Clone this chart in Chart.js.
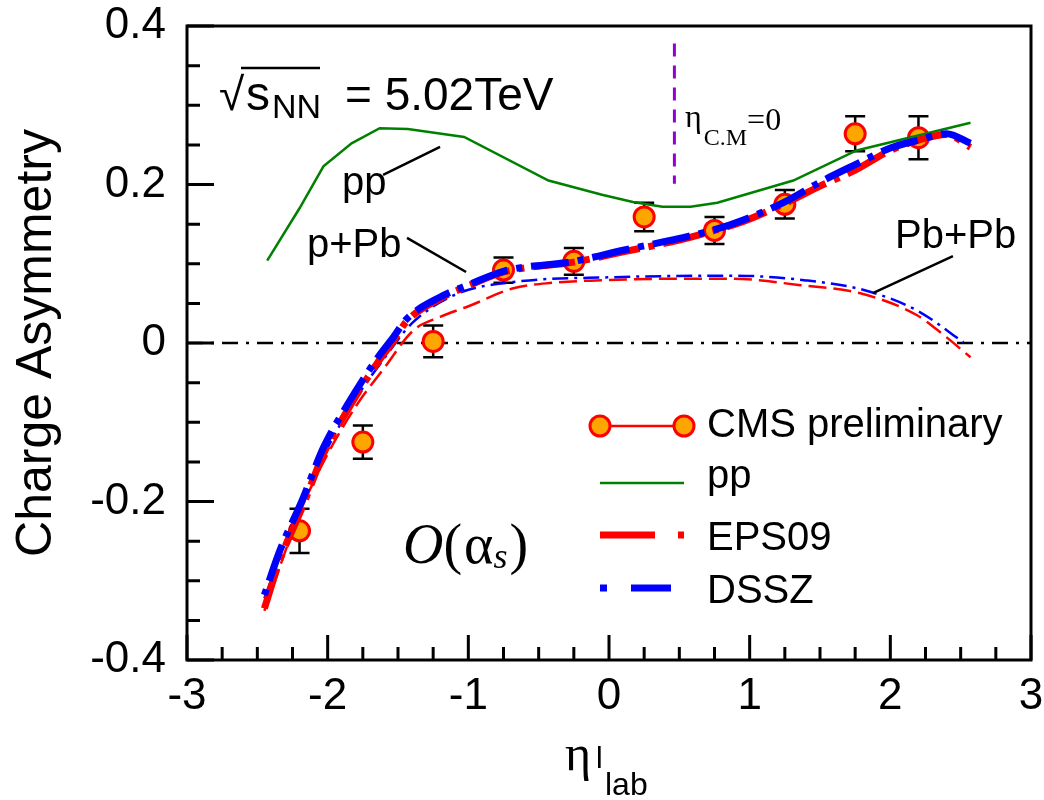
<!DOCTYPE html>
<html>
<head>
<meta charset="utf-8">
<script src="https://cdn.jsdelivr.net/npm/chart.js@4"></script>
<style>
  html, body { margin: 0; padding: 0; background: #fff; }
</style>
</head>
<body>
<canvas id="canvas" width="1044" height="800"></canvas>
<script>
// CMS preliminary charge asymmetry vs lepton eta (lab frame)
var cmsEta = [-2.2, -1.75, -1.25, -0.75, -0.25, 0.25, 0.75, 1.25, 1.75, 2.2];
var cmsAsym = [-0.237, -0.125, 0.002, 0.092, 0.103, 0.159, 0.142, 0.175, 0.264, 0.259];
var cmsErr = [0.028, 0.021, 0.02, 0.016, 0.017, 0.018, 0.017, 0.018, 0.022, 0.027];

// pp reference curve
var ppEta = [-2.43, -2.2, -2.03, -1.83, -1.63, -1.43, -1.03, -0.43, -0.05, 0.17, 0.38, 0.58, 0.77, 1.31, 1.76, 2.57];
var ppAsym = [0.104, 0.170, 0.223, 0.252, 0.271, 0.270, 0.260, 0.205, 0.187, 0.178, 0.172, 0.172, 0.177, 0.205, 0.243, 0.278];

// p+Pb, EPS09 and DSSZ nPDFs
var pPbEta = [-2.45, -2.34, -2.18, -2.03, -1.86, -1.65, -1.53, -1.44, -1.2, -0.99, -0.74, -0.25, 0.1, 0.5, 0.75, 0.95, 1.25, 1.5, 1.75, 2.0, 2.2, 2.4, 2.57];
var pPbEps09 = [-0.335, -0.274, -0.207, -0.140, -0.085, -0.026, 0.003, 0.027, 0.056, 0.073, 0.090, 0.102, 0.115, 0.130, 0.142, 0.153, 0.176, 0.198, 0.218, 0.243, 0.256, 0.263, 0.247];
var pPbDssz = [-0.318, -0.262, -0.198, -0.132, -0.078, -0.020, 0.008, 0.030, 0.058, 0.074, 0.091, 0.103, 0.117, 0.132, 0.143, 0.155, 0.178, 0.203, 0.225, 0.246, 0.256, 0.264, 0.252];

// Pb+Pb, EPS09 and DSSZ nPDFs
var PbPbEta = [-2.45, -2.2, -2.0, -1.8, -1.6, -1.39, -1.2, -0.99, -0.68, -0.4, -0.09, 0.41, 0.88, 1.36, 1.78, 2.19, 2.38, 2.57];
var PbPbEps09 = [-0.338, -0.215, -0.140, -0.080, -0.032, 0.016, 0.033, 0.047, 0.069, 0.076, 0.079, 0.081, 0.081, 0.073, 0.063, 0.035, 0.010, -0.018];
var PbPbDsszEta = [-2.45, -2.2, -2.0, -1.8, -1.6, -1.4, -1.08, -0.68, 0.03, 0.88, 1.4, 1.83, 2.19, 2.52];
var PbPbDssz = [-0.322, -0.205, -0.132, -0.070, -0.020, 0.025, 0.062, 0.077, 0.083, 0.085, 0.079, 0.066, 0.041, 0.001];

// reference lines
var zeroEta = [-3, 3];
var zeroVal = [0, 0];
var cmEta = [0.465, 0.465];
var cmVal = [0.378, 0.201];

var xTicks = [-3, -2, -1, 0, 1, 2, 3];
var yTicks = [-0.4, -0.2, 0, 0.2, 0.4];

var SANS = '"Liberation Sans", Arial, sans-serif';
var SERIF = '"Liberation Serif", "Times New Roman", serif';

function pts(xs, ys) {
  return xs.map(function (x, i) { return { x: x, y: ys[i] }; });
}

function fmt(v) {
  if (Math.abs(v) < 1e-9) return '0';
  return String(+v.toFixed(1));
}

// keep the plot box fixed, labels may overhang the margins
function fixBox(s) {
  s.paddingTop = 0; s.paddingBottom = 0; s.paddingLeft = 0; s.paddingRight = 0;
}

var decor = {
  id: 'decor',
  beforeDatasetsDraw: function (chart) {
    var ctx = chart.ctx, xs = chart.scales.x, ys = chart.scales.y;
    // error bars under the markers
    ctx.save();
    ctx.strokeStyle = '#000';
    ctx.lineWidth = 2.5;
    cmsEta.forEach(function (e, i) {
      var x = xs.getPixelForValue(e);
      var y1 = ys.getPixelForValue(cmsAsym[i] + cmsErr[i]);
      var y2 = ys.getPixelForValue(cmsAsym[i] - cmsErr[i]);
      ctx.beginPath();
      ctx.moveTo(x, y1); ctx.lineTo(x, y2);
      ctx.moveTo(x - 10, y1); ctx.lineTo(x + 10, y1);
      ctx.moveTo(x - 10, y2); ctx.lineTo(x + 10, y2);
      ctx.stroke();
    });
    ctx.restore();
  },
  afterDraw: function (chart) {
    var ctx = chart.ctx, xs = chart.scales.x, ys = chart.scales.y, a = chart.chartArea;
    ctx.save();

    // frame
    ctx.strokeStyle = '#000';
    ctx.lineWidth = 3;
    ctx.strokeRect(a.left, a.top, a.right - a.left, a.bottom - a.top);

    // inward ticks on bottom and left
    ctx.beginPath();
    for (var k = -12; k <= 12; k++) {
      var x = xs.getPixelForValue(k * 0.25);
      var len = (k % 4 === 0) ? 25 : 13;
      ctx.moveTo(x, a.bottom); ctx.lineTo(x, a.bottom - len);
    }
    for (var j = -8; j <= 8; j++) {
      var y = ys.getPixelForValue(j * 0.05);
      var l2 = (j % 4 === 0) ? 27 : 13;
      ctx.moveTo(a.left, y); ctx.lineTo(a.left + l2, y);
    }
    ctx.stroke();

    // pointer lines for the curve labels
    function seg(x1, y1, x2, y2) {
      ctx.moveTo(xs.getPixelForValue(x1), ys.getPixelForValue(y1));
      ctx.lineTo(xs.getPixelForValue(x2), ys.getPixelForValue(y2));
    }
    ctx.lineWidth = 2.5;
    ctx.beginPath();
    seg(-1.606, 0.212, -1.201, 0.2475);
    seg(-1.436, 0.1326, -1.016, 0.0896);
    seg(2.445, 0.1095, 1.876, 0.0628);
    ctx.stroke();

    ctx.fillStyle = '#000';
    ctx.textBaseline = 'alphabetic';
    ctx.textAlign = 'left';
    ctx.font = '40px ' + SANS;
    ctx.fillText('pp', 342, 195);
    ctx.fillText('p+Pb', 307, 257);
    ctx.fillText('Pb+Pb', 895, 248);

    // sqrt(s_NN) = 5.02TeV
    ctx.font = '46px ' + SANS + ', "DejaVu Sans"';
    ctx.fillText('\u221A', 219, 110);
    ctx.font = '48px ' + SANS;
    ctx.fillText('s', 246, 110);
    ctx.font = '34px ' + SANS;
    ctx.fillText('NN', 272, 118);
    ctx.font = '46px ' + SANS;
    ctx.fillText('= 5.02TeV', 345, 110);
    ctx.lineWidth = 2.5;
    ctx.beginPath();
    ctx.moveTo(241, 68); ctx.lineTo(320, 68);
    ctx.stroke();

    // eta_C.M=0 label
    var lx = 685;
    ctx.font = '32px ' + SERIF;
    ctx.fillText('\u03B7', lx, 127); lx += ctx.measureText('\u03B7').width + 2;
    ctx.font = '24px ' + SERIF;
    ctx.fillText('C.M', lx, 145); lx += ctx.measureText('C.M').width;
    ctx.font = '32px ' + SERIF;
    ctx.fillText('=0', lx, 130);

    // O(alpha_s)
    var cx = 403;
    ctx.font = 'italic 56px ' + SERIF;
    ctx.fillText('O', cx, 563); cx += ctx.measureText('O').width;
    ctx.font = '56px ' + SERIF;
    ctx.fillText('(', cx, 563); cx += ctx.measureText('(').width + 2;
    ctx.fillText('\u03B1', cx, 563); cx += ctx.measureText('\u03B1').width;
    ctx.font = 'italic 36px ' + SERIF;
    ctx.fillText('s', cx, 568); cx += ctx.measureText('s').width + 2;
    ctx.font = '56px ' + SERIF;
    ctx.fillText(')', cx, 563);

    // axis titles
    ctx.font = '50px ' + SANS;
    ctx.save();
    ctx.translate(51, 343);
    ctx.rotate(-Math.PI / 2);
    ctx.textAlign = 'center';
    ctx.fillText('Charge Asymmetry', 0, 0);
    ctx.restore();

    ctx.font = '50px ' + SERIF;
    ctx.fillText('\u03B7', 565, 770);
    ctx.font = '30px ' + SANS;
    ctx.fillText('l', 596, 768);
    ctx.font = '32px ' + SANS;
    ctx.fillText('lab', 605, 795);

    // legend
    ctx.lineCap = 'butt';
    ctx.strokeStyle = '#FF0000';
    ctx.lineWidth = 2.5;
    ctx.beginPath(); ctx.moveTo(600, 426); ctx.lineTo(684, 426); ctx.stroke();
    [600, 684].forEach(function (mx) {
      ctx.beginPath();
      ctx.arc(mx, 426, 10, 0, Math.PI * 2);
      ctx.fillStyle = '#FFA500';
      ctx.fill();
      ctx.lineWidth = 3;
      ctx.strokeStyle = '#FF0000';
      ctx.stroke();
    });
    ctx.strokeStyle = '#008000';
    ctx.lineWidth = 2.5;
    ctx.beginPath(); ctx.moveTo(600, 483); ctx.lineTo(684, 483); ctx.stroke();
    ctx.strokeStyle = '#FF0000';
    ctx.lineWidth = 7;
    ctx.beginPath();
    ctx.moveTo(600, 535); ctx.lineTo(655, 535);
    ctx.moveTo(678, 535); ctx.lineTo(684, 535);
    ctx.stroke();
    ctx.strokeStyle = '#0000FF';
    ctx.beginPath();
    ctx.moveTo(600, 588); ctx.lineTo(607, 588);
    ctx.moveTo(631, 588); ctx.lineTo(671, 588);
    ctx.stroke();

    ctx.fillStyle = '#000';
    ctx.font = '40px ' + SANS;
    ctx.fillText('CMS preliminary', 707, 437);
    ctx.fillText('pp', 707, 488);
    ctx.fillText('EPS09', 707, 550);
    ctx.fillText('DSSZ', 707, 603);

    ctx.restore();
  }
};

function curve(xs, ys, color, width, dash, order, smooth) {
  return {
    data: pts(xs, ys),
    borderColor: color,
    borderWidth: width,
    borderDash: dash,
    pointRadius: 0,
    fill: false,
    tension: 0,
    cubicInterpolationMode: smooth ? 'monotone' : 'default',
    order: order
  };
}

new Chart('canvas', {
  type: 'line',
  data: {
    datasets: [
      curve(zeroEta, zeroVal, '#000', 2.5, [16, 8, 3, 8], 10, false),
      curve(cmEta, cmVal, '#9400D3', 3, [13, 9], 9, false),
      {
        data: pts(cmsEta, cmsAsym),
        showLine: false,
        pointRadius: 10,
        pointHoverRadius: 10,
        pointBackgroundColor: '#FFA500',
        pointBorderColor: '#FF0000',
        pointBorderWidth: 3,
        order: 8
      },
      curve(ppEta, ppAsym, '#008000', 2.5, [], 7, false),
      curve(PbPbEta, PbPbEps09, '#FF0000', 2.5, [18, 7], 6, true),
      curve(PbPbDsszEta, PbPbDssz, '#0000FF', 2.5, [16, 6, 3, 6], 5, true),
      curve(pPbEta, pPbEps09, '#FF0000', 7, [42, 9, 6, 9], 4, true),
      curve(pPbEta, pPbDssz, '#0000FF', 7, [6, 9, 38, 9], 3, true)
    ]
  },
  options: {
    responsive: false,
    animation: false,
    events: [],
    layout: { padding: { top: 26, right: 13, left: 0, bottom: 0 } },
    plugins: { legend: { display: false }, tooltip: { enabled: false } },
    scales: {
      x: {
        type: 'linear',
        min: -3, max: 3,
        afterFit: function (s) { s.height = 140; fixBox(s); },
        afterBuildTicks: function (s) { s.ticks = xTicks.map(function (v) { return { value: v }; }); },
        grid: { display: false, drawTicks: false },
        border: { display: false },
        ticks: { color: '#000', padding: 10, maxRotation: 0, font: { family: SANS, size: 44 }, callback: fmt }
      },
      y: {
        type: 'linear',
        min: -0.4, max: 0.4,
        afterFit: function (s) { s.width = 187; fixBox(s); },
        afterBuildTicks: function (s) { s.ticks = yTicks.map(function (v) { return { value: v }; }); },
        grid: { display: false, drawTicks: false },
        border: { display: false },
        ticks: { color: '#000', padding: 21, font: { family: SANS, size: 44 }, callback: fmt }
      }
    }
  },
  plugins: [decor]
});
</script>
</body>
</html>
